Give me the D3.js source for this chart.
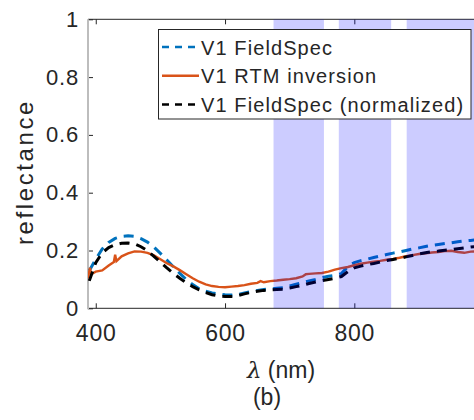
<!DOCTYPE html>
<html>
<head>
<meta charset="utf-8">
<script src="https://cdn.jsdelivr.net/npm/d3@7"></script>
<style>
  body { margin: 0; background: #fff; }
  text { font-family: "Liberation Sans", Arial, Helvetica, sans-serif; fill: #262626; }
</style>
</head>
<body>
<svg id="chart" width="474" height="420"></svg>
<script>
// wavelengths (nm) for the two FieldSpec curves
var wl = [390,400,410,420,430,440,450,460,470,480,490,500,510,520,530,540,550,560,570,580,
          590,600,610,620,630,640,650,660,670,680,690,700,710,720,730,740,750,760,770,780,
          790,800,810,820,830,840,850,860,870,880,890,900,910,920,930,940,950,960,970,980,990,1000];

var fieldSpec = [0.13,0.17,0.205,0.228,0.242,0.249,0.251,0.249,0.241,0.229,0.212,0.19,0.167,0.144,0.121,0.100,0.082,0.068,0.059,0.053,
                 0.049,0.047,0.046,0.048,0.053,0.058,0.062,0.065,0.067,0.069,0.071,0.077,0.083,0.089,0.095,0.100,0.106,0.111,0.114,0.120,
                 0.145,0.158,0.165,0.170,0.176,0.181,0.186,0.191,0.195,0.200,0.205,0.209,0.214,0.218,0.221,0.224,0.227,0.230,0.233,0.235,0.238,0.240];

var fieldSpecNorm = [0.095,0.158,0.192,0.210,0.220,0.225,0.226,0.223,0.213,0.199,0.180,0.160,0.140,0.121,0.104,0.088,0.075,0.064,0.055,0.047,
                     0.043,0.041,0.041,0.044,0.050,0.055,0.059,0.062,0.064,0.065,0.066,0.070,0.075,0.080,0.086,0.091,0.096,0.100,0.104,0.110,
                     0.127,0.140,0.146,0.151,0.155,0.160,0.165,0.169,0.173,0.178,0.183,0.188,0.192,0.196,0.198,0.201,0.203,0.206,0.209,0.212,0.214,0.216];

// RTM inversion has its own (uneven) sampling
var rtmWl = [388,391,393,400,410,420,428,430,432,440,450,460,470,480,490,500,510,520,530,540,
             550,560,570,580,590,600,610,620,630,640,650,655,660,670,680,690,700,710,720,725,
             730,740,750,760,770,780,790,800,810,820,830,840,850,860,870,880,890,900,910,920,
             930,940,950,960,970,980,990,1000];
var rtm = [0.104,0.14,0.118,0.127,0.131,0.148,0.160,0.185,0.163,0.180,0.190,0.197,0.196,0.192,0.183,0.170,0.156,0.145,0.132,0.118,
           0.104,0.092,0.083,0.077,0.074,0.073,0.075,0.077,0.080,0.085,0.088,0.094,0.090,0.094,0.096,0.099,0.101,0.104,0.110,0.118,
           0.119,0.121,0.122,0.127,0.134,0.139,0.143,0.149,0.154,0.158,0.161,0.164,0.168,0.171,0.175,0.180,0.184,0.188,0.190,0.193,
           0.195,0.198,0.199,0.195,0.192,0.196,0.197,0.198];

// shaded wavelength bands
var bands = [[675,753],[776,857],[881,1000]];

var xTicks = [400,600,800];
var yTicks = [0,0.2,0.4,0.6,0.8,1];

var legendNames = ["V1 FieldSpec","V1 RTM inversion","V1 FieldSpec (normalized)"];

var svg = d3.select("#chart");
var plotLeft = 88, plotTop = 19.3, plotBottom = 308.3;

var x = d3.scaleLinear().domain([388,1000]).range([88, 483.6]);
var y = d3.scaleLinear().domain([0,1]).range([plotBottom, plotTop]);

svg.append("defs").append("clipPath").attr("id","clip")
  .append("rect").attr("x",plotLeft).attr("y",plotTop).attr("width",474-plotLeft).attr("height",plotBottom-plotTop);

// axes
var xAxis = d3.axisBottom(x).tickValues(xTicks).tickSize(-5).tickPadding(16).tickFormat(d3.format("d"));
var gx = svg.append("g").attr("transform","translate(0,"+plotBottom+")").call(xAxis);
gx.select(".domain").remove();
gx.selectAll("text").style("font-size","23px").style("letter-spacing","0.8px").attr("fill","#262626");
gx.selectAll("line").attr("stroke","#262626");

var xTop = d3.axisTop(x).tickValues(xTicks).tickSize(-5).tickFormat("");
var gt = svg.append("g").attr("transform","translate(0,"+plotTop+")").call(xTop);
gt.select(".domain").remove();
gt.selectAll("line").attr("stroke","#262626");

var yAxis = d3.axisLeft(y).tickValues(yTicks).tickSize(-5).tickPadding(9).tickFormat(function(d){ return d3.format("")(d); });
var gy = svg.append("g").attr("transform","translate("+plotLeft+",0)").call(yAxis);
gy.select(".domain").remove();
gy.selectAll("text").style("font-size","22px").style("letter-spacing","0.8px").attr("fill","#262626");
gy.selectAll("line").attr("stroke","#262626");

svg.append("line").attr("x1",plotLeft).attr("x2",474).attr("y1",plotBottom).attr("y2",plotBottom).attr("stroke","#262626");
svg.append("line").attr("x1",plotLeft).attr("x2",474).attr("y1",plotTop).attr("y2",plotTop).attr("stroke","#262626");
svg.append("line").attr("x1",plotLeft).attr("x2",plotLeft).attr("y1",plotTop).attr("y2",plotBottom+1).attr("stroke","#bdbdbd").attr("stroke-width",2);

// curves
var plot = svg.append("g").attr("clip-path","url(#clip)");
var line = d3.line().x(function(d){ return x(d[0]); }).y(function(d){ return y(d[1]); });

plot.append("path").datum(d3.zip(wl, fieldSpec)).attr("d", line)
  .attr("fill","none").attr("stroke","#0072BD").attr("stroke-width",3).attr("stroke-dasharray","10,7");
plot.append("path").datum(d3.zip(rtmWl, rtm)).attr("d", line)
  .attr("fill","none").attr("stroke","#D95319").attr("stroke-width",2.4);
plot.append("path").datum(d3.zip(wl, fieldSpecNorm)).attr("d", line)
  .attr("fill","none").attr("stroke","#000").attr("stroke-width",3).attr("stroke-dasharray","10,7");

// bands on top
plot.selectAll("rect.band").data(bands).enter().append("rect")
  .attr("class","band")
  .attr("x", function(d){ return x(d[0]); })
  .attr("width", function(d){ return x(d[1]) - x(d[0]); })
  .attr("y", plotTop).attr("height", plotBottom - plotTop + 1)
  .attr("fill","#0000ff").attr("fill-opacity",0.2);

// legend
var lg = svg.append("g");
lg.append("rect").attr("x",158.5).attr("y",29.5).attr("width",312.5).attr("height",89.5)
  .attr("fill","#fff").attr("stroke","#262626").attr("stroke-width",1);
var legendStyle = [
  {c:"#0072BD", w:2.5, dash:"7,6"},
  {c:"#D95319", w:2.4, dash:null},
  {c:"#000", w:2.5, dash:"7,6"}
];
legendNames.forEach(function(name, i){
  var cy = 47 + i*28.8;
  var l = lg.append("line").attr("x1",162).attr("x2",199).attr("y1",cy).attr("y2",cy)
    .attr("stroke",legendStyle[i].c).attr("stroke-width",legendStyle[i].w);
  if (legendStyle[i].dash) l.attr("stroke-dasharray",legendStyle[i].dash);
  lg.append("text").attr("x",201).attr("y",cy+7.5).style("font-size","20px")
    .style("letter-spacing","1.1px").text(name);
});

// labels
svg.append("text").attr("transform","translate(33,172) rotate(-90)")
  .attr("text-anchor","middle").style("font-size","24px").style("letter-spacing","2.6px").text("reflectance");

var xl = svg.append("text").attr("x",281).attr("y",378).attr("text-anchor","middle").style("font-size","23px");
xl.append("tspan").style("font-style","italic").attr("font-family","DejaVu Serif").text("λ");
xl.append("tspan").text(" (nm)");

svg.append("text").attr("x",267).attr("y",405).attr("text-anchor","middle").style("font-size","23px").text("(b)");
</script>
</body>
</html>
